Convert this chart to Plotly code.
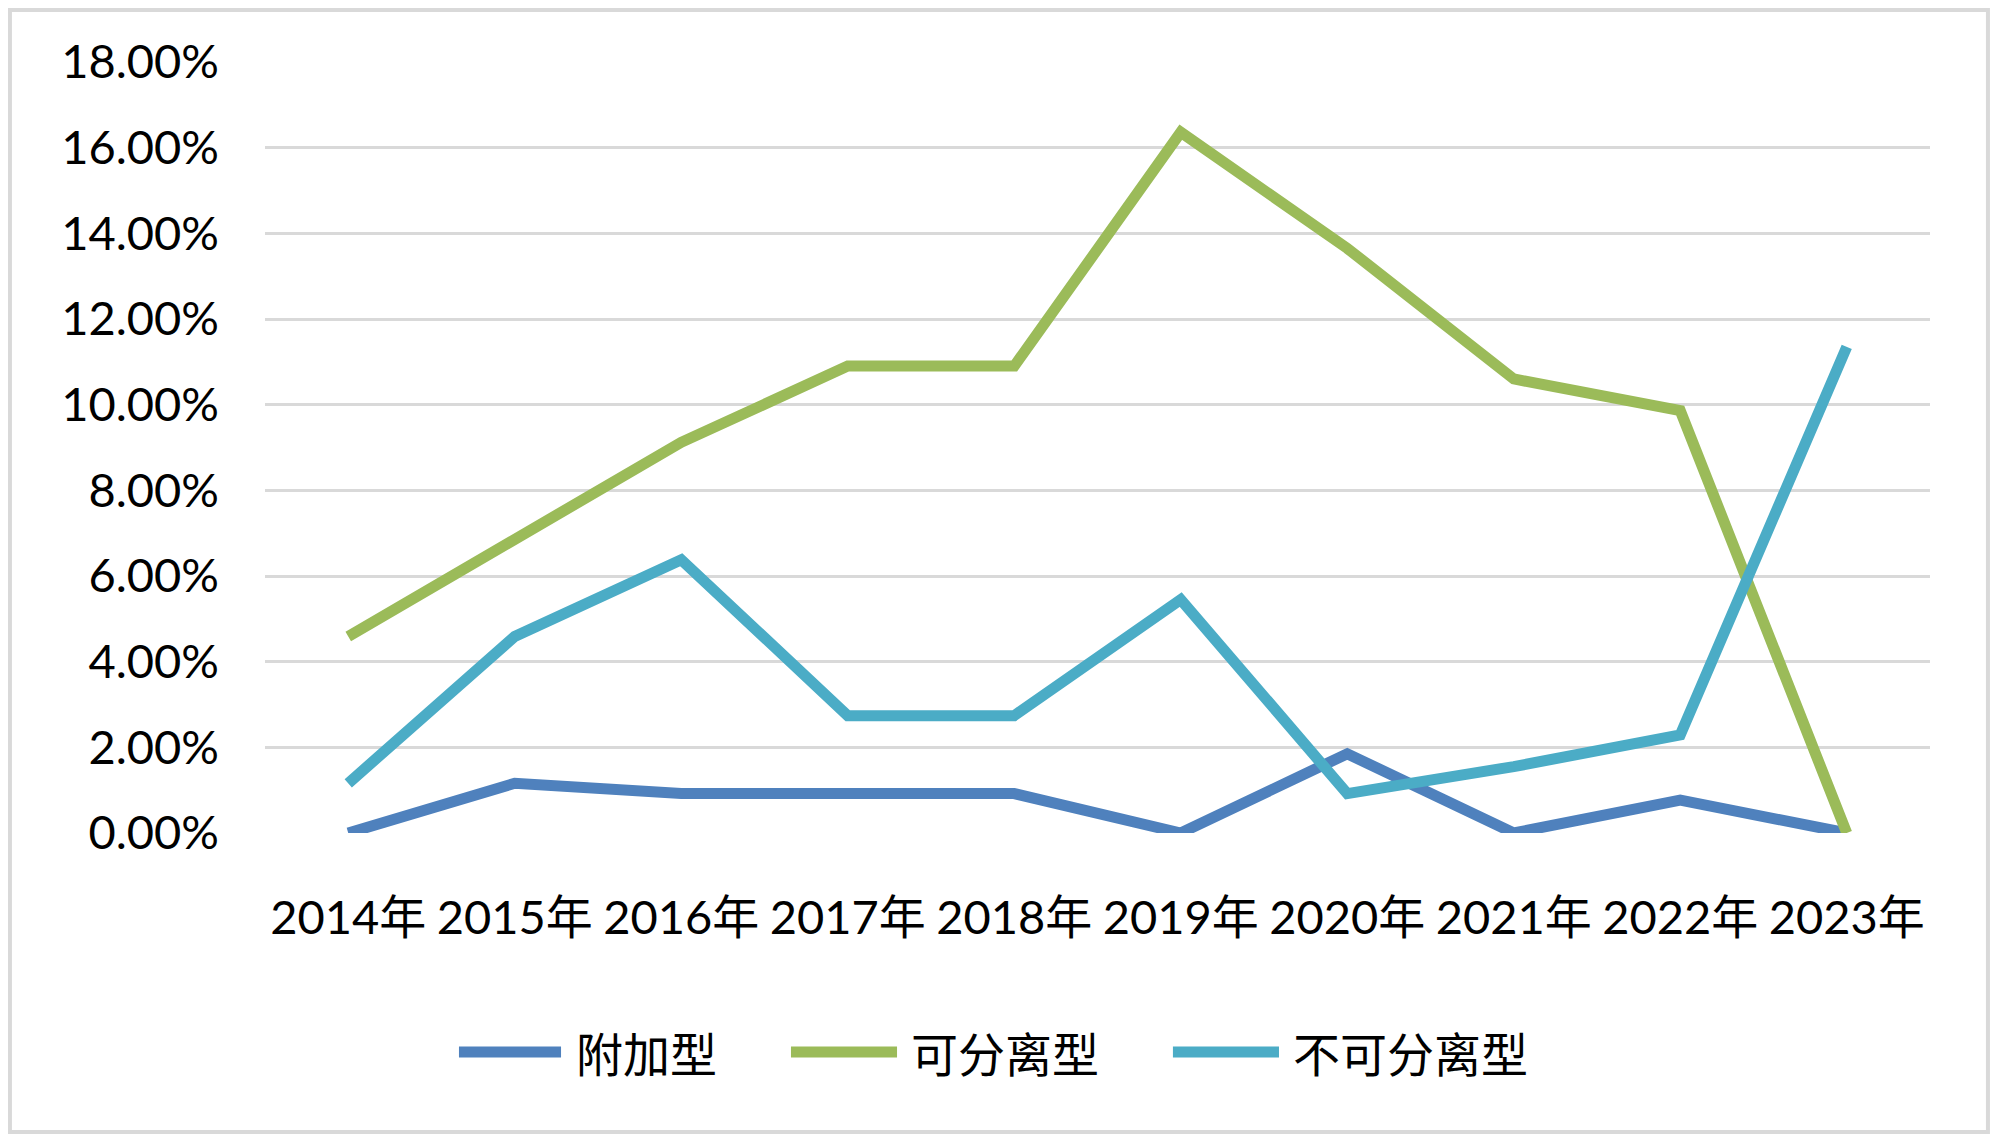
import plotly.graph_objects as go

years = ["2014年", "2015年", "2016年", "2017年", "2018年", "2019年", "2020年", "2021年", "2022年", "2023年"]
additive = [0.0, 0.0116, 0.0092, 0.0092, 0.0092, 0.0, 0.0185, 0.0, 0.0077, 0.0]
separable = [0.0459, 0.0682, 0.0912, 0.1090, 0.1090, 0.1636, 0.1365, 0.1060, 0.0986, 0.0]
inseparable = [0.0116, 0.0459, 0.0638, 0.0274, 0.0274, 0.0545, 0.0092, 0.0155, 0.0229, 0.1135]
series_names = ["附加型", "可分离型", "不可分离型"]
colors = ["#4F81BD", "#9BBB59", "#4BACC6"]
y_ticks = [0, 0.02, 0.04, 0.06, 0.08, 0.10, 0.12, 0.14, 0.16, 0.18]

FONT = "Lato, 'Noto Sans CJK SC', sans-serif"

fig = go.Figure()
for name, vals, col in zip(series_names, [additive, separable, inseparable], colors):
    fig.add_trace(go.Scatter(
        x=years, y=vals, name=name, mode="lines",
        line=dict(color=col, width=11),
        showlegend=False,
    ))

# custom legend (long line symbols like the original)
legend_pos = [(0.1165, 0.1778, 0.1856), (0.3159, 0.3796, 0.3868), (0.5453, 0.6090, 0.6162)]
shapes = []
annotations = []
for (x0, x1, xt), name, col in zip(legend_pos, series_names, colors):
    shapes.append(dict(type="line", xref="paper", yref="paper", x0=x0, x1=x1, y0=-0.284, y1=-0.284,
                       line=dict(color=col, width=11)))
    annotations.append(dict(xref="paper", yref="paper", x=xt, y=-0.284, text=name, showarrow=False,
                            xanchor="left", yanchor="middle",
                            font=dict(family="'Noto Sans CJK SC', sans-serif", size=47, color="#000000")))

# outer chart border
shapes.append(dict(type="rect", xref="paper", yref="paper", x0=-0.1532, x1=1.0348, y0=-0.3878, y1=1.0674,
                   line=dict(color="#D9D9D9", width=4), fillcolor="rgba(0,0,0,0)", layer="below"))

fig.update_layout(
    width=1992, height=1135,
    margin=dict(l=257, r=70, t=54, b=310),
    paper_bgcolor="white", plot_bgcolor="white",
    font=dict(family=FONT, size=47, color="#000000"),
    shapes=shapes, annotations=annotations,
    xaxis=dict(type="category", range=[-0.5, 9.5], showgrid=False, zeroline=False,
               showline=False, ticks="", ticklabelstandoff=53,
               tickfont=dict(family=FONT, size=47, color="#000000")),
    yaxis=dict(range=[0, 0.18], tickvals=y_ticks, tickformat=".2%",
               showgrid=True, gridcolor="#D9D9D9", gridwidth=3,
               zeroline=False, showline=False, ticks="", ticklabelstandoff=45,
               tickfont=dict(family=FONT, size=47, color="#000000")),
)

fig.write_html("out.html")
